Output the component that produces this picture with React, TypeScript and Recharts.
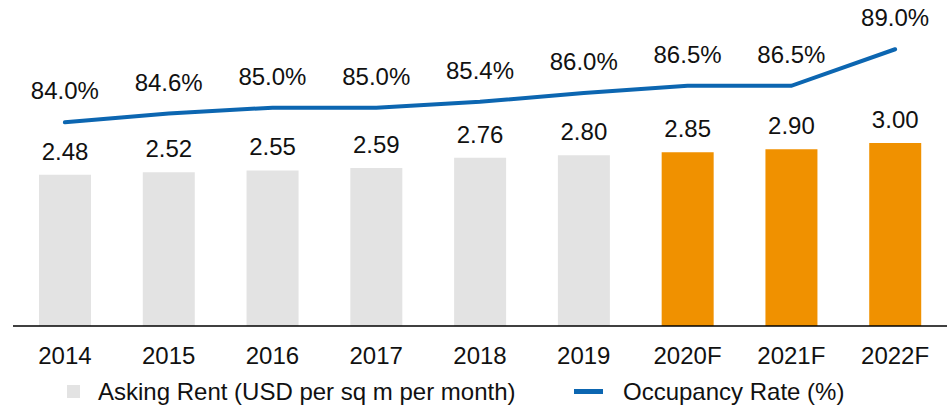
import React from 'react';
import { ComposedChart, Bar, Line, XAxis, YAxis, Cell, LabelList, Legend } from 'recharts';

const years = ['2014', '2015', '2016', '2017', '2018', '2019', '2020F', '2021F', '2022F'];
const askingRent = [2.48, 2.52, 2.55, 2.59, 2.76, 2.80, 2.85, 2.90, 3.00];
const occupancy = [84.0, 84.6, 85.0, 85.0, 85.4, 86.0, 86.5, 86.5, 89.0];
const isForecast = [false, false, false, false, false, false, true, true, true];

const data = years.map((y, i) => ({ year: y, rent: askingRent[i], occ: occupancy[i], forecast: isForecast[i] }));

const FONT = 'Liberation Sans, Arial, sans-serif';
const GRAY = '#e3e3e3';
const ORANGE = '#f09100';
const BLUE = '#0c66b1';

const LegendContent = () => (
  <div style={{ position: 'relative', height: 30, fontFamily: FONT, fontSize: 24, color: '#111' }}>
    <div style={{ position: 'absolute', left: 67, top: 10, width: 13, height: 13, background: GRAY }} />
    <div style={{ position: 'absolute', left: 98, top: 2, lineHeight: '30px', whiteSpace: 'nowrap' }}>Asking Rent (USD per sq m per month)</div>
    <div style={{ position: 'absolute', left: 574, top: 14, width: 29, height: 5, background: BLUE }} />
    <div style={{ position: 'absolute', left: 623, top: 2, lineHeight: '30px', whiteSpace: 'nowrap' }}>Occupancy Rate (%)</div>
  </div>
);

export default function App() {
  return (
    <div style={{ position: 'absolute', left: 0, top: 0, width: 951, height: 407, background: '#fff' }}>
      <ComposedChart width={951} height={407} data={data} margin={{ top: 18, right: 4, bottom: 21, left: 13 }}>
        <XAxis
          dataKey="year"
          axisLine={{ stroke: '#000', strokeWidth: 1.5 }}
          tickLine={false}
          tickMargin={15}
          interval={0}
          tick={{ fill: '#111', fontSize: 24, fontFamily: FONT }}
        />
        <YAxis yAxisId="rent" domain={[0, 5.05]} hide />
        <YAxis yAxisId="occ" domain={[70.05, 91.14]} hide orientation="right" />
        <Legend
          verticalAlign="bottom"
          align="left"
          wrapperStyle={{ left: 0, top: 375, width: 951, height: 30 }}
          content={() => <LegendContent />}
        />
        <Bar yAxisId="rent" dataKey="rent" barSize={52} isAnimationActive={false}>
          {data.map((d, i) => (
            <Cell key={i} fill={d.forecast ? ORANGE : GRAY} />
          ))}
          <LabelList
            dataKey="rent"
            position="top"
            offset={15}
            formatter={(v: number) => v.toFixed(2)}
            style={{ fill: '#111', fontSize: 24, fontFamily: FONT }}
          />
        </Bar>
        <Line
          yAxisId="occ"
          dataKey="occ"
          stroke={BLUE}
          strokeWidth={4}
          strokeLinecap="round"
          dot={false}
          activeDot={false}
          isAnimationActive={false}
        >
          <LabelList
            dataKey="occ"
            position="top"
            offset={23}
            formatter={(v: number) => v.toFixed(1) + '%'}
            style={{ fill: '#111', fontSize: 24, fontFamily: FONT }}
          />
        </Line>
      </ComposedChart>
    </div>
  );
}
